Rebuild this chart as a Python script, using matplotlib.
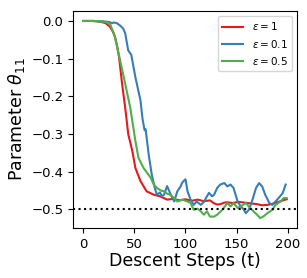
import matplotlib
matplotlib.use('Agg')
import matplotlib.pyplot as plt

# values (step, theta_11)
steps_e1 = [0, 10, 17, 22, 26, 29, 31, 33, 35, 38, 41, 44, 48, 51, 56, 62, 69, 75, 82,
            88, 94, 100, 106, 112, 118, 124, 128, 131, 134, 138, 141, 146, 152, 158, 164,
            170, 175, 180, 185, 190, 195, 199]
vals_e1 = [0.0, 0.0, -0.002, -0.006, -0.015, -0.028, -0.042, -0.065, -0.095, -0.167, -0.229,
           -0.30, -0.345, -0.39, -0.425, -0.452, -0.461, -0.465, -0.474,
           -0.472, -0.476, -0.473, -0.477, -0.474, -0.478, -0.476, -0.484, -0.487, -0.486,
           -0.482, -0.481, -0.483, -0.480, -0.482, -0.484,
           -0.486, -0.489, -0.488, -0.485, -0.481, -0.476, -0.473]

steps_e01 = [0, 10, 20, 26, 28, 30, 33, 36, 39, 41, 44, 47, 51, 56, 58, 59, 60, 61, 64, 67,
             70, 72, 75, 77, 79, 82, 85, 87, 89, 92, 95, 97, 100, 102, 105, 108, 111, 115,
             118, 120, 123, 126, 128, 131, 134, 138, 141, 144, 147, 151, 154, 157, 159,
             162, 165, 169, 172, 175, 178, 182, 185, 188, 191, 195, 198]
vals_e01 = [0.0, 0.0, -0.001, -0.003, -0.006, -0.004, -0.006, -0.012, -0.02, -0.032, -0.078,
            -0.09, -0.149, -0.211, -0.26, -0.275, -0.29, -0.287, -0.354, -0.407,
            -0.443, -0.461, -0.455, -0.465, -0.461, -0.438, -0.457, -0.468, -0.479, -0.452,
            -0.44, -0.428, -0.42, -0.452, -0.474, -0.488, -0.479, -0.488,
            -0.480, -0.470, -0.456, -0.465, -0.461, -0.443, -0.434, -0.430, -0.439, -0.434,
            -0.443, -0.479, -0.492, -0.500, -0.510,
            -0.501, -0.479, -0.443, -0.430, -0.439, -0.461, -0.483, -0.488, -0.479,
            -0.470, -0.457, -0.434]

steps_e05 = [0, 10, 20, 26, 31, 36, 41, 46, 49, 51, 54, 59, 63, 66, 69, 72, 76, 79, 82, 85,
             89, 92, 97, 102, 105, 108, 112, 115, 118, 121, 124, 128, 131, 136, 141, 144,
             147, 151, 154, 159, 162, 165, 170, 173, 176, 180, 185, 188, 193, 196, 199]
vals_e05 = [0.0, 0.0, -0.002, -0.006, -0.042, -0.104, -0.166, -0.23, -0.283, -0.318, -0.363,
            -0.39, -0.405, -0.416, -0.434, -0.443, -0.450, -0.452, -0.458, -0.461,
            -0.470, -0.479, -0.474, -0.479, -0.483, -0.501, -0.498, -0.505, -0.514, -0.505,
            -0.519, -0.519, -0.514, -0.501, -0.483, -0.492,
            -0.483, -0.496, -0.492, -0.483, -0.492, -0.501, -0.514, -0.523, -0.519,
            -0.510, -0.501, -0.488, -0.479, -0.470, -0.470]

target = -0.5

fig = plt.figure(figsize=(3.07, 2.78), dpi=100)
ax = fig.add_axes([0.238, 0.180, 0.729, 0.780])

ax.plot(steps_e1, vals_e1, color='#e41a1c', lw=1.5, label=r'$\varepsilon = 1$')
ax.plot(steps_e01, vals_e01, color='#377eb8', lw=1.5, label=r'$\varepsilon = 0.1$')
ax.plot(steps_e05, vals_e05, color='#4daf4a', lw=1.5, label=r'$\varepsilon = 0.5$')
ax.axhline(target, color='black', ls=':', lw=1.5)

ax.set_xticks([0, 50, 100, 150, 200])
ax.set_yticks([0.0, -0.1, -0.2, -0.3, -0.4, -0.5])
ax.tick_params(labelsize=9.5)
ax.set_xlabel('Descent Steps (t)', fontsize=12.5, labelpad=1)
ax.set_ylabel(r'Parameter $\theta_{11}$', fontsize=12.5, labelpad=3)
ax.legend(loc='upper right', fontsize=7.5)

fig.savefig('out.png', dpi=100)
